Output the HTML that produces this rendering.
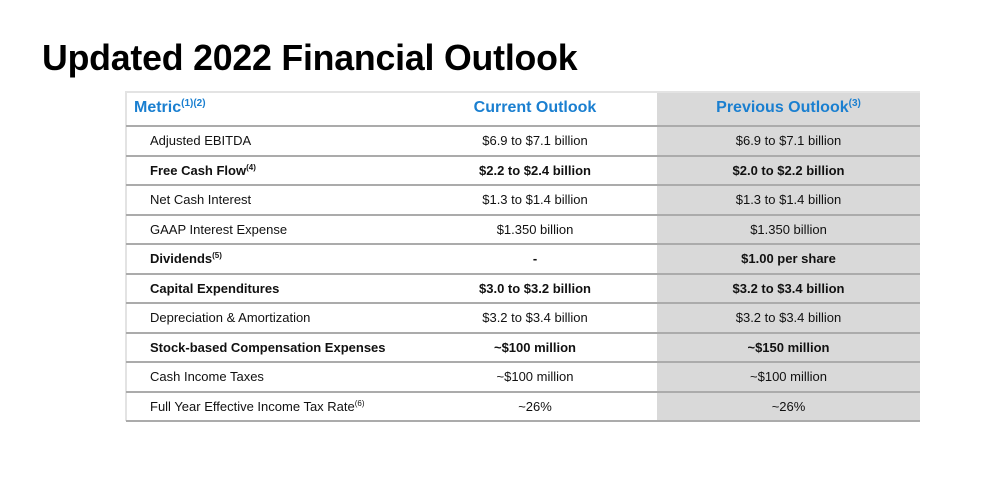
<!DOCTYPE html>
<html><head><meta charset="utf-8"><style>
body{margin:0;width:990px;height:486px;background:#fff;font-family:"Liberation Sans",Arial,sans-serif;position:relative;overflow:hidden}
h1{position:absolute;left:42px;top:38px;margin:0;font-size:35.7px;font-weight:bold;color:#000;letter-spacing:-0.2px}
.frame{position:absolute;left:125px;top:91px;width:795px;height:330px;border-left:2px solid #e3e3e3;border-top:2px solid #e3e3e3;box-sizing:border-box}
.prev{position:absolute;left:657px;top:91px;width:263px;height:330px;background:#d9d9d9}
.row{position:absolute;left:126px;width:794px;height:29.5px;border-bottom:2px solid #ababab;box-sizing:border-box;font-size:13px;color:#111}
.row div{position:absolute;top:0;height:100%;display:flex;align-items:center}
.c1{left:24px}.c2{left:287px;width:244px;justify-content:center}.c3{left:531px;width:263px;justify-content:center}
.b{font-weight:bold}
.hdr{color:#1a7fd0;font-weight:bold;font-size:16px}
.hdr .c1{left:8px}
sup{font-size:8px;vertical-align:5px;line-height:0}
.hdr sup{font-size:10px;vertical-align:6px}
</style></head><body>
<h1>Updated 2022 Financial Outlook</h1>
<div class="prev"></div>
<div class="frame"></div>
<div class="row hdr" style="top:91px;height:36px"><div class="c1"><span>Metric<sup>(1)(2)</sup></span></div><div class="c2"><span>Current Outlook</span></div><div class="c3"><span>Previous Outlook<sup>(3)</sup></span></div></div>
<div id="rows"></div>
<script>
var rows=[
["Adjusted EBITDA","$6.9 to $7.1 billion","$6.9 to $7.1 billion",0],
["Free Cash Flow<sup>(4)</sup>","$2.2 to $2.4 billion","$2.0 to $2.2 billion",1],
["Net Cash Interest","$1.3 to $1.4 billion","$1.3 to $1.4 billion",0],
["GAAP Interest Expense","$1.350 billion","$1.350 billion",0],
["Dividends<sup>(5)</sup>","-","$1.00 per share",1],
["Capital Expenditures","$3.0 to $3.2 billion","$3.2 to $3.4 billion",1],
["Depreciation &amp; Amortization","$3.2 to $3.4 billion","$3.2 to $3.4 billion",0],
["Stock-based Compensation Expenses","~$100 million","~$150 million",1],
["Cash Income Taxes","~$100 million","~$100 million",0],
["Full Year Effective Income Tax Rate<sup>(6)</sup>","~26%","~26%",0]];
var h='';
rows.forEach(function(r,i){
h+='<div class="row'+(r[3]?' b':'')+'" style="top:'+(127+i*29.5)+'px"><div class="c1"><span>'+r[0]+'</span></div><div class="c2"><span>'+r[1]+'</span></div><div class="c3"><span>'+r[2]+'</span></div></div>';
});
document.getElementById('rows').innerHTML=h;
</script>
</body></html>
